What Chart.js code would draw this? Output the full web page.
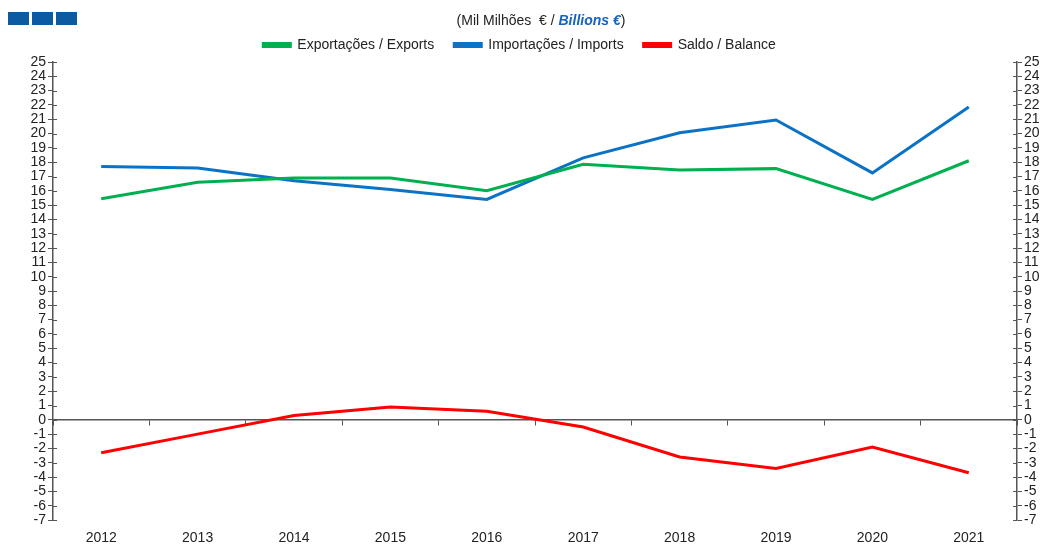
<!DOCTYPE html>
<html>
<head>
<meta charset="utf-8">
<script src="https://cdn.jsdelivr.net/npm/chart.js@4.4.1/dist/chart.umd.min.js"></script>
<style>
  html, body { margin: 0; padding: 0; background: #fff; }
  #wrap { position: relative; width: 1048px; height: 545px; }
  #logo { position: absolute; left: 8px; top: 12px; display: flex; gap: 3px; }
  #logo span { width: 21px; height: 13px; background: #0b5aa2; display: block; }
  #unit {
    position: absolute; left: 0; width: 1082px; top: 12px; text-align: center;
    font: 14px "Liberation Sans", Arial, sans-serif; color: #222;
  }
  #unit b { color: #1565c0; font-style: italic; }
</style>
</head>
<body>
<div id="wrap">
  <canvas id="tradeChart" width="1048" height="545"></canvas>
  <div id="logo"><span></span><span></span><span></span></div>
  <div id="unit">(Mil Milhões&nbsp; € / <b>Billions €</b>)</div>
</div>
<script>
// ── Data (mil milhões € / billions €) ─────────────────────────
const YEARS   = ['2012','2013','2014','2015','2016','2017','2018','2019','2020','2021'];
const EXPORTS = [15.45, 16.6, 16.9, 16.9, 16.0, 17.85, 17.45, 17.55, 15.4, 18.1];
const IMPORTS = [17.7, 17.6, 16.7, 16.1, 15.4, 18.3, 20.05, 20.95, 17.25, 21.85];
const BALANCE = [-2.3, -1.0, 0.3, 0.9, 0.6, -0.5, -2.6, -3.4, -1.9, -3.7];

const Y_MIN = -7, Y_MAX = 25;

const FONT = { family: '"Liberation Sans", Arial, sans-serif', size: 14 };
const AXIS_COLOR = '#555';

// small inner tick marks so the y-axis ticks cross the axis line
const innerTicks = {
  id: 'innerTicks',
  afterDraw(chart) {
    const { ctx } = chart;
    ctx.save();
    ctx.strokeStyle = AXIS_COLOR;
    ctx.lineWidth = 1;
    ['y', 'y2'].forEach(id => {
      const sc = chart.scales[id];
      const x0 = id === 'y' ? chart.chartArea.left : chart.chartArea.right;
      const dir = id === 'y' ? 1 : -1;
      sc.ticks.forEach(t => {
        const py = Math.round(sc.getPixelForValue(t.value)) + 0.5;
        ctx.beginPath();
        ctx.moveTo(x0, py);
        ctx.lineTo(x0 + dir * 4, py);
        ctx.stroke();
      });
    });
    ctx.restore();
  },
};

function lineSet(label, data, color) {
  return {
    label, data,
    borderColor: color, backgroundColor: color,
    borderWidth: 3, pointRadius: 0, tension: 0,
  };
}

function yAxis(position, width) {
  return {
    position,
    min: Y_MIN, max: Y_MAX,
    afterFit: s => { s.width = width; },
    ticks: { stepSize: 1, autoSkip: false, color: '#222', font: FONT, padding: 2 },
    grid: { drawOnChartArea: false, tickLength: 5, color: AXIS_COLOR },
    border: { color: AXIS_COLOR, width: 1.5 },
  };
}

new Chart(document.getElementById('tradeChart'), {
  type: 'line',
  data: {
    labels: YEARS,
    datasets: [
      lineSet('Exportações / Exports', EXPORTS, '#00b050'),
      lineSet('Importações / Imports', IMPORTS, '#0b72c6'),
      lineSet('Saldo / Balance', BALANCE, '#ff0000'),
    ],
  },
  options: {
    responsive: false,
    animation: false,
    layout: { padding: { top: 18, left: 0, right: 9, bottom: 0 } },
    plugins: {
      legend: {
        position: 'top',
        labels: {
          boxWidth: 27, boxHeight: 3, padding: 20,
          color: '#222', font: FONT,
        },
      },
      tooltip: { enabled: false },
    },
    scales: {
      x: {
        offset: true,
        afterFit: s => { s.height = 25; },
        ticks: { color: '#222', font: FONT, padding: 10 },
        grid: { display: false, drawTicks: false },
        border: { display: false },
      },
      xZero: {
        type: 'category',
        position: { y: 0 },
        offset: true,
        ticks: { display: false },
        grid: { drawOnChartArea: false, offset: true, tickLength: 5, color: AXIS_COLOR },
        border: { color: AXIS_COLOR, width: 1.5 },
      },
      y: yAxis('left', 53),
      y2: yAxis('right', 22),
    },
  },
  plugins: [innerTicks],
});
</script>
</body>
</html>
